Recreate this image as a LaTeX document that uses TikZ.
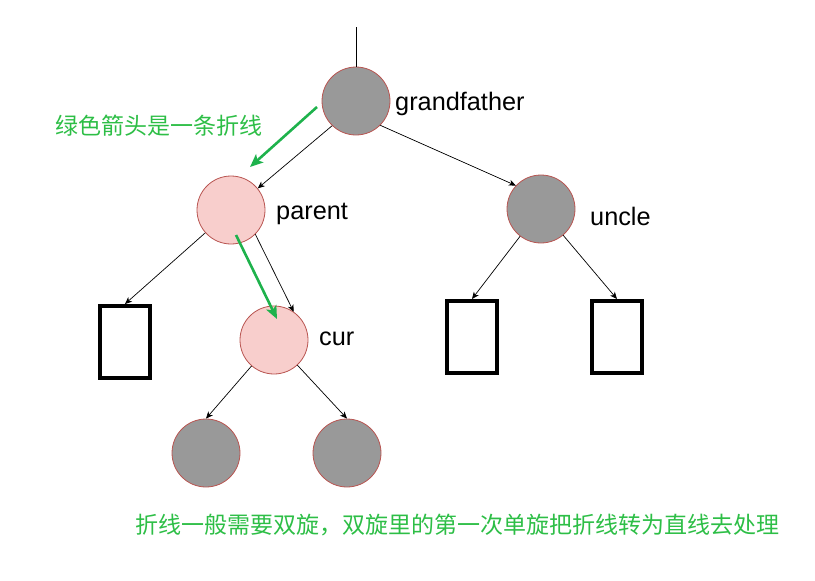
\documentclass[tikz,border=0pt]{standalone}
\usepackage{fontspec}
\setmainfont{Liberation Sans}
\newfontfamily\cjk{Noto Sans CJK SC}
\usetikzlibrary{arrows.meta}
\definecolor{redline}{RGB}{184,84,80}
\definecolor{greyfill}{RGB}{153,153,153}
\definecolor{pinkfill}{RGB}{248,206,204}
\definecolor{txtgreen}{RGB}{45,190,70}
\definecolor{arrgreen}{RGB}{30,178,76}
\begin{document}
\begin{tikzpicture}[x=1pt,y=-1pt,
  blacknode/.style={circle,draw=redline,fill=greyfill,line width=0.8pt,minimum size=68pt,inner sep=0pt},
  rednode/.style={circle,draw=redline,fill=pinkfill,line width=0.8pt,minimum size=68pt,inner sep=0pt},
  nilbox/.style={draw=black,line width=4pt,minimum width=50pt,minimum height=72pt,inner sep=0pt},
  lbl/.style={font=\fontsize{25.3}{30}\selectfont,anchor=west,inner sep=0pt},
  note/.style={font=\cjk\fontsize{23}{27}\selectfont,text=txtgreen,anchor=west,inner sep=0pt},
  edge/.style={draw=black,line width=0.7pt,-{Stealth[length=7pt,width=6pt,inset=2pt]}},
  garrow/.style={draw=arrgreen,line width=2.6pt,-{Stealth[length=13pt,width=11pt,inset=3pt]}}]
\useasboundingbox (0,0) rectangle (815,581);
% nodes
\node[blacknode] (gf) at (356,101) {};
\node[rednode] (parent) at (231,210) {};
\node[blacknode] (uncle) at (541,209) {};
\node[rednode] (cur) at (274,340) {};
\node[blacknode] (ll) at (206,453) {};
\node[blacknode] (lr) at (347,453) {};
\node[nilbox] (b1) at (125,342) {};
\node[nilbox] (b2) at (472,337) {};
\node[nilbox] (b3) at (617,337) {};
\coordinate (top) at (356,27);
% labels
\node[lbl] (tgf) at (395,104) {grandfather};
\node[lbl] (tpa) at (276,214) {parent};
\node[lbl] (tcu) at (319,339) {cur};
\node[lbl] (tun) at (590,216) {uncle};
\node[note] (n1) at (55,126) {绿色箭头是一条折线};
\node[note] (n2) at (135,525) {折线一般需要双旋，双旋里的第一次单旋把折线转为直线去处理};
% connectors
\draw[line width=1pt] (top) -- (gf.north);
\draw[edge] (gf.-134) -- (parent.39);
\draw[edge] (gf.-45) -- (uncle.137);
\draw[edge] (parent) -- (b1.north);
\draw[edge] (parent.-45) -- (cur.55);
\draw[edge] (uncle) -- (b2.north);
\draw[edge] (uncle) -- (b3.north);
\draw[edge] (cur) -- (ll.north);
\draw[edge] (cur) -- (lr.north);
% green arrows
\coordinate (g1s) at (317,107);
\coordinate (g1e) at (250,167);
\coordinate (g2s) at (236,235);
\coordinate (g2e) at (277,319);
\draw[garrow] (g1s) -- (g1e);
\draw[garrow] (g2s) -- (g2e);
\end{tikzpicture}
\end{document}
